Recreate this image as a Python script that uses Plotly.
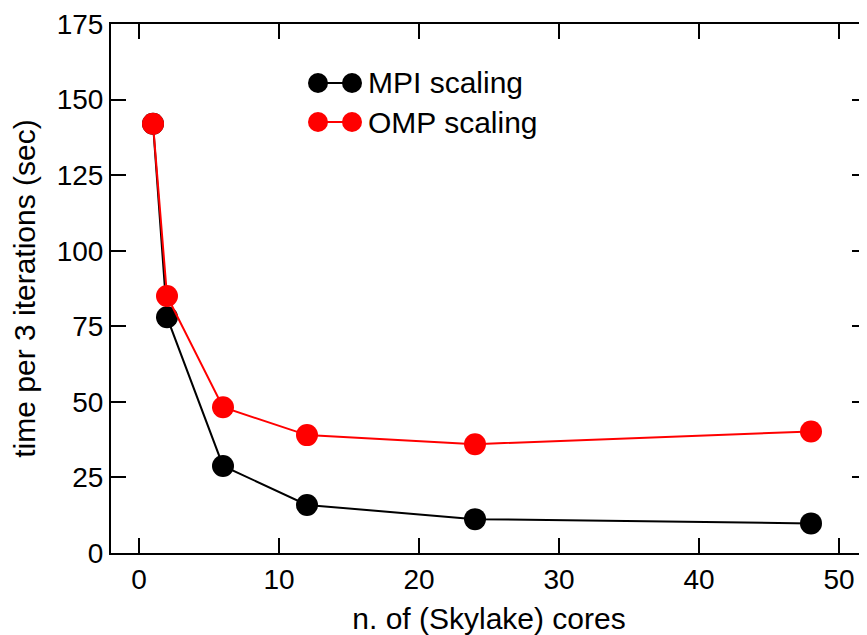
import plotly.graph_objects as go

cores = [1, 2, 6, 12, 24, 48]
mpi_time = [142, 78, 28.8, 15.9, 11.2, 9.8]
omp_time = [142, 85, 48.2, 39, 36, 40.2]
series_names = ["MPI scaling", "OMP scaling"]
series_colors = ["black", "#ff0000"]
x_ticks = [0, 10, 20, 30, 40, 50]
y_ticks = [0, 25, 50, 75, 100, 125, 150, 175]

FONT = "Liberation Sans, Arial, Helvetica, sans-serif"

OFF = 8  # default page body margin
W, H = 867 - OFF, 635 - OFF
ML, MR, MT, MB = 111 - OFF, 0, 24 - OFF, 82
PW, PH = W - ML - MR, H - MT - MB
X0, Y0 = ML + OFF, MT + OFF  # plot area's top-left corner on screen

fig = go.Figure()
for name, ys, col in zip(series_names, [mpi_time, omp_time], series_colors):
    fig.add_trace(go.Scatter(
        x=cores, y=ys, mode="lines+markers", name=name,
        line=dict(color=col, width=2),
        marker=dict(color=col, size=22, line=dict(width=0)),
        showlegend=False, cliponaxis=False,
    ))


def px(x):
    return (x - X0) / PW


def py(y):
    return 1 - (y - Y0) / PH


# manual legend (two markers joined by a short line, as in the original)
leg_y = [83, 122]
for i, (name, col) in enumerate(zip(series_names, series_colors)):
    yc = py(leg_y[i])
    fig.add_shape(type="line", xref="paper", yref="paper",
                  x0=px(318), x1=px(352), y0=yc, y1=yc,
                  line=dict(color=col, width=2))
    for cx in (318, 352):
        fig.add_shape(type="circle", xref="paper", yref="paper",
                      x0=px(cx - 10), x1=px(cx + 10),
                      y0=py(leg_y[i] + 10), y1=py(leg_y[i] - 10),
                      fillcolor=col, line=dict(color=col, width=0))
    fig.add_annotation(xref="paper", yref="paper", x=px(366), y=yc,
                       xanchor="left", yanchor="middle", text=name, showarrow=False,
                       font=dict(family=FONT, size=30, color="black"))

axis_common = dict(
    showline=True, linecolor="black", linewidth=2, mirror="ticks",
    ticks="inside", ticklen=15, tickwidth=2, tickcolor="black",
    showgrid=False, zeroline=False, automargin=False,
    tickfont=dict(family=FONT, size=28, color="black"),
    title_font=dict(family=FONT, size=30, color="black"),
)

fig.update_xaxes(range=[-2, 52], tickvals=x_ticks, title_text="n. of (Skylake) cores",
                 title_standoff=14, **axis_common)
fig.update_yaxes(range=[0, 175], tickvals=y_ticks, title_text="time per 3 iterations (sec)",
                 title_standoff=15, **axis_common)

fig.update_layout(
    width=W, height=H,
    margin=dict(l=ML, r=MR, t=MT, b=MB),
    plot_bgcolor="white", paper_bgcolor="white",
    font=dict(family=FONT, color="black"),
)

fig.write_html("out.html")
